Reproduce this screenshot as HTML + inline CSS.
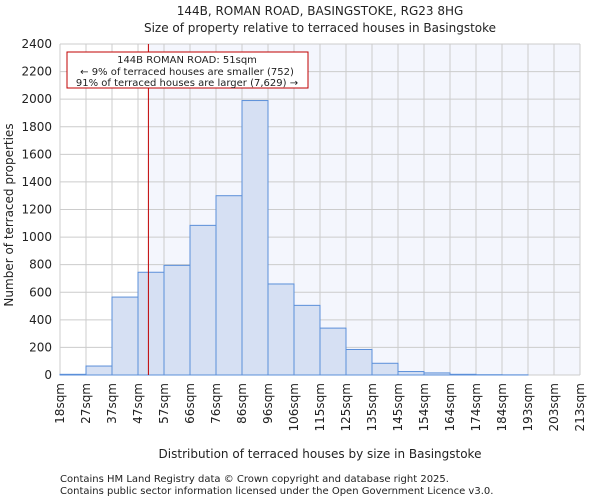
<!DOCTYPE html>
<html><head><meta charset="utf-8"><style>
body{margin:0;background:#fff;font-family:"DejaVu Sans","Liberation Sans",sans-serif;}
svg text{font-family:"DejaVu Sans","Liberation Sans",sans-serif;fill:#222;}
</style></head><body>
<svg id="chart" width="600" height="500" xmlns="http://www.w3.org/2000/svg">
<text x="320" y="15" text-anchor="middle" font-size="12">144B, ROMAN ROAD, BASINGSTOKE, RG23 8HG</text>
<text x="320" y="32" text-anchor="middle" font-size="12">Size of property relative to terraced houses in Basingstoke</text>
<g id="plot"></g>
<text x="320" y="458" text-anchor="middle" font-size="12">Distribution of terraced houses by size in Basingstoke</text>
<text transform="translate(13,215) rotate(-90)" text-anchor="middle" font-size="12">Number of terraced properties</text>
<text x="60" y="482" font-size="10" fill="#444">Contains HM Land Registry data © Crown copyright and database right 2025.</text>
<text x="60" y="494" font-size="10" fill="#444">Contains public sector information licensed under the Open Government Licence v3.0.</text>
</svg>
<script>
const categories=["18sqm","27sqm","37sqm","47sqm","57sqm","66sqm","76sqm","86sqm","96sqm","106sqm","115sqm","125sqm","135sqm","145sqm","154sqm","164sqm","174sqm","184sqm","193sqm","203sqm","213sqm"];
const counts=[5,65,565,745,795,1085,1300,1990,660,505,340,185,85,25,15,5,2,1,0,0];
const yTicks=[0,200,400,600,800,1000,1200,1400,1600,1800,2000,2200,2400];
const propertyBinPos=[3.4];
const NS="http://www.w3.org/2000/svg";
const L=60,R=580,T=44,B=375,yMax=2400;
const bw=(R-L)/counts.length;
const xs=i=>L+i*bw;
const ys=v=>B-v/yMax*(B-T);
const g=document.getElementById('plot');
function mk(t,a){const e=document.createElementNS(NS,t);for(const k in a)e.setAttribute(k,a[k]);g.appendChild(e);return e;}
const lineX=xs(propertyBinPos[0]);
let e=mk('rect',{x:L,y:T,width:R-L,height:B-T,fill:'#fff'});


e=mk('rect',{x:lineX,y:T,width:R-lineX,height:B-T,fill:'#f4f6fd'});


yTicks.forEach(v=>{
 let l=mk('line',{x1:L,x2:R,y1:ys(v),y2:ys(v),stroke:'#cccccc','stroke-width':1});
 
 
 let t=mk('text',{x:L-8,y:ys(v)+4,'text-anchor':'end','font-size':12});
 t.textContent=v;
 
 
});
categories.forEach((c,i)=>{
 let l=mk('line',{x1:xs(i),x2:xs(i),y1:T,y2:B,stroke:'#cccccc','stroke-width':1});
 
 
 let t=mk('text',{transform:`translate(${xs(i)+4},${B+8}) rotate(-90)`,'text-anchor':'end','font-size':12});
 t.textContent=c;
 
 
});
counts.forEach((v,i)=>{
 let r=mk('rect',{x:xs(i),y:ys(v),width:bw,height:B-ys(v),fill:'#d6e0f3',stroke:'#5b8fd9','stroke-width':1});
 
 
});
e=mk('line',{x1:lineX,x2:lineX,y1:T,y2:B,stroke:'#c00000','stroke-width':1});


e=mk('rect',{x:67,y:52,width:241,height:36,fill:'#fff',stroke:'#c00000','stroke-width':1});


[["144B ROMAN ROAD: 51sqm",63],["← 9% of terraced houses are smaller (752)",75],["91% of terraced houses are larger (7,629) →",86]].forEach(([s,y])=>{
 let t=mk('text',{x:187,y:y,'text-anchor':'middle','font-size':10});
 t.textContent=s;
 
 
});
</script>
</body></html>
